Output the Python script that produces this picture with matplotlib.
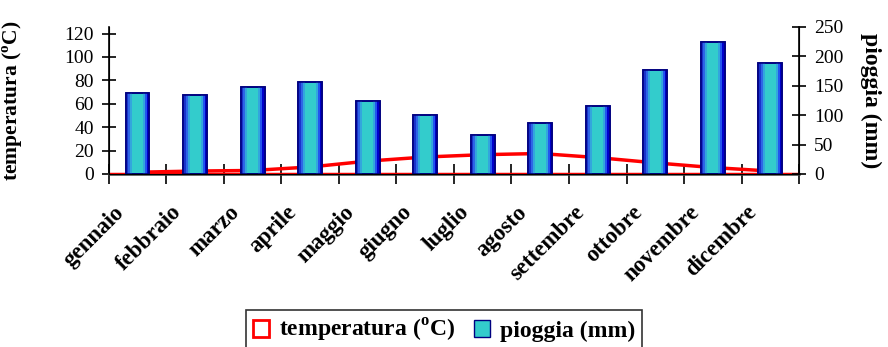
import numpy as np
import matplotlib
matplotlib.use("Agg")
import matplotlib.pyplot as plt
import matplotlib.transforms as mtransforms
from matplotlib.patches import Patch, Rectangle

mesi = ["gennaio", "febbraio", "marzo", "aprile", "maggio", "giugno",
        "luglio", "agosto", "settembre", "ottobre", "novembre", "dicembre"]
temperatura = [1.5, 2.5, 3, 6, 11, 14.5, 16.5, 17.5, 14, 9.5, 5.5, 2.5]
pioggia = [137, 134, 148, 157, 124, 100, 67, 86, 115, 177, 224, 189]

plt.rcParams['font.family'] = ['Liberation Serif', 'DejaVu Serif']
plt.rcParams['mathtext.fontset'] = 'custom'
plt.rcParams['mathtext.rm'] = 'Liberation Serif:bold'

fig = plt.figure(figsize=(8.88, 3.47), dpi=100)
ax = fig.add_axes([0.1227, 0.4986, 0.7771, 0.4236])
ax2 = ax.twinx()

x = np.arange(len(mesi))

# temperatura: linea rossa con base a zero
ax.plot(x, temperatura, color='#ff0000', lw=2.5, solid_joinstyle='miter', zorder=3)
ax.axhline(0, color='#ff0000', lw=2.5, zorder=3)
ax.set_ylim(0, 125.6)
ax.set_yticks(range(0, 121, 20))
ax.set_xlim(-0.5, 11.5)

# pioggia: barre ciano con bordi blu
w = 0.41
ax2.bar(x, pioggia, w, color='#33cccc', edgecolor='#000080', lw=1.2, zorder=2)
left_cols = ['#1a33cc', '#2e66e6', '#33a6dd']
right_cols = ['#33a6dd', '#2255ee', '#0000cc']
sw = w * 0.09
for xi, h in zip(x, pioggia):
    for k, c in enumerate(left_cols):
        ax2.add_patch(Rectangle((xi - w / 2 + k * sw, 0), sw, h, color=c, lw=0, zorder=2.1))
    for k, c in enumerate(right_cols):
        ax2.add_patch(Rectangle((xi + w / 2 - (3 - k) * sw, 0), sw, h, color=c, lw=0, zorder=2.1))
ax2.bar(x, pioggia, w, fill=False, edgecolor='#000080', lw=1.2, zorder=2.2)
ax2.set_ylim(0, 250)
ax2.set_yticks(range(0, 251, 50))

for a in (ax, ax2):
    a.spines['top'].set_visible(False)
    a.tick_params(axis='y', direction='inout', length=10, width=1.2, labelsize=14, pad=6)
ax.spines['left'].set_linewidth(1.2)
ax2.spines['right'].set_linewidth(1.2)
ax.spines['bottom'].set_linewidth(1.8)
ax.spines['bottom'].set_color('#444444')

ax.set_xticks(x)
ax.set_xticks(np.arange(-0.5, 12, 1), minor=True)
ax.tick_params(axis='x', which='major', length=0, pad=20)
ax.tick_params(axis='x', which='minor', direction='inout', length=14, width=1.2)
ax.set_xticklabels(mesi, rotation=45, ha='right', rotation_mode='anchor',
                   fontsize=16.5, fontweight='bold')
shift = mtransforms.ScaledTranslation(-24 / 100, 0, fig.dpi_scale_trans)
for lab in ax.get_xticklabels():
    lab.set_transform(lab.get_transform() + shift)

ax.set_ylabel(r'temperatura ($^{\mathrm{o}}$C)', fontsize=15.5, fontweight='bold')
ax.yaxis.set_label_coords(-0.122, 0.5)
ax2.set_ylabel('pioggia (mm)', fontsize=17, fontweight='bold', rotation=-90, va='center')
ax2.yaxis.set_label_coords(1.103, 0.5)

handles = [Patch(facecolor='white', edgecolor='#ff0000', lw=2),
           Patch(facecolor='#33cccc', edgecolor='#000080', lw=1)]
leg = fig.legend(handles, [r'temperatura ($^{\mathrm{o}}$C)', 'pioggia (mm)'],
                 loc='upper center', bbox_to_anchor=(0.5, 1 - 310 / 347), ncol=2,
                 prop={'weight': 'bold', 'size': 17}, frameon=True, fancybox=False,
                 edgecolor='black', handlelength=0.7, handleheight=0.7,
                 handletextpad=0.4, columnspacing=0.8, borderpad=0.3,
                 borderaxespad=0)
leg.get_frame().set_linewidth(1.2)

fig.savefig('out.png', dpi=100)
